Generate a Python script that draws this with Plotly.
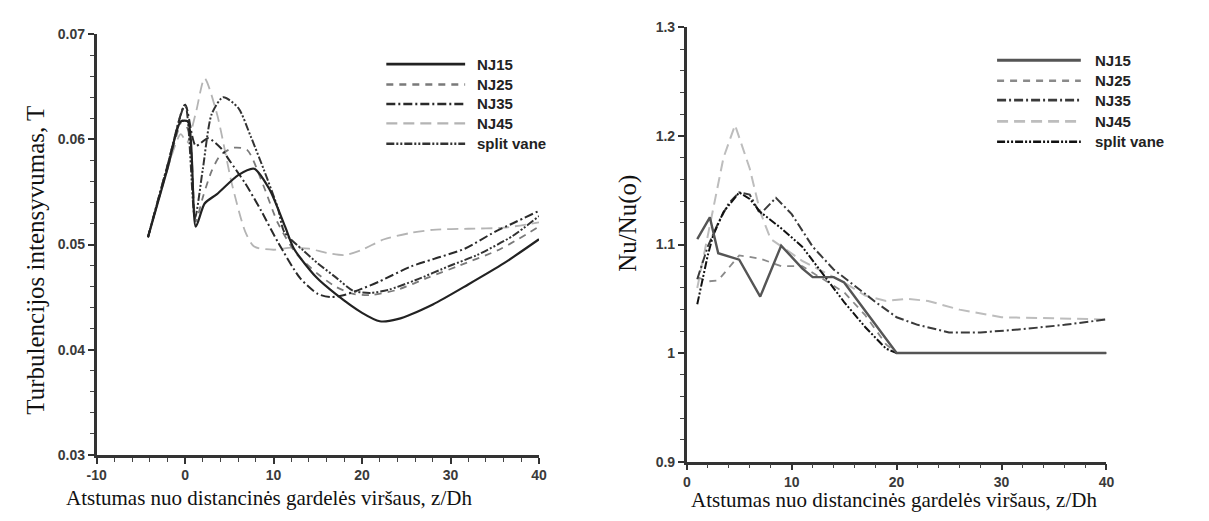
import plotly.graph_objects as go

W, H = 1209, 521

# ---------------- Left chart data (turbulence intensity) ----------------
L_NJ15_x = [-4.2, -2, -0.5, 0.3, 1.2, 2.2, 3.6, 6, 7.8, 9.5, 11.3, 12.3, 14.8, 17, 20, 22, 24, 28, 32, 36, 40]
L_NJ15_y = [0.0507, 0.0572, 0.0617, 0.0617, 0.0517, 0.0539, 0.0548, 0.0566, 0.0572, 0.0553, 0.0517, 0.0496,
            0.0469, 0.0453, 0.0435, 0.0427, 0.0429, 0.0443, 0.0462, 0.0482, 0.0505]

L_NJ25_x = [-4.2, -2, -0.3, 0.5, 1.2, 2, 3, 4, 5.5, 7, 8.8, 10.5, 12.5, 15, 17, 19, 21, 24, 27.6, 31, 35.7, 40]
L_NJ25_y = [0.0507, 0.0572, 0.0618, 0.0605, 0.0522, 0.0545, 0.057, 0.0585, 0.0592, 0.059, 0.0557, 0.052,
            0.0492, 0.0472, 0.046, 0.0453, 0.0452, 0.0457, 0.0469, 0.048, 0.0496, 0.0517]

L_NJ35_x = [-4.2, -2, 0, 1.2, 2.6, 4, 5, 6.8, 8.6, 10.5, 13, 15, 16.5, 18, 20, 22, 25.5, 28, 31.6, 35, 37, 40]
L_NJ35_y = [0.0507, 0.0575, 0.0633, 0.0594, 0.0601, 0.0592, 0.058, 0.0558, 0.0532, 0.0502, 0.0468, 0.0453,
            0.045, 0.0452, 0.0458, 0.0465, 0.0479, 0.0486, 0.0496, 0.0512, 0.052, 0.0532]

L_NJ45_x = [-4.2, -2, -0.5, 0.2, 1.2, 2.2, 3.6, 5.3, 6.8, 7.8, 10, 12, 14, 16, 18, 20, 22.5, 25.5, 28, 32, 36, 40]
L_NJ45_y = [0.0507, 0.0572, 0.0605, 0.0597, 0.0625, 0.0658, 0.0624, 0.0557, 0.0512, 0.0498, 0.0495, 0.0497,
            0.0496, 0.0492, 0.049, 0.0495, 0.0505, 0.0511, 0.0514, 0.0515, 0.0516, 0.0521]

L_SV_x = [-4.2, -2, 0, 1.1, 2, 3, 4.3, 6, 7.4, 8.9, 10.5, 11.2, 13.4, 15, 17, 19, 21, 23, 26, 30, 33, 37, 40]
L_SV_y = [0.0507, 0.0575, 0.0633, 0.0525, 0.0572, 0.0624, 0.064, 0.063, 0.0603, 0.0571, 0.0534, 0.0512,
          0.0494, 0.0482, 0.0469, 0.0456, 0.0454, 0.0457, 0.0466, 0.048, 0.049, 0.0508, 0.0527]

# ---------------- Right chart data (Nu/Nu(o)) ----------------
R_NJ15_x = [1, 2.2, 3, 5, 7, 9, 11, 12, 14, 15, 20, 40]
R_NJ15_y = [1.105, 1.125, 1.092, 1.086, 1.052, 1.099, 1.078, 1.07, 1.07, 1.065, 1.0, 1.0]

R_NJ25_x = [1, 2, 3, 4, 5, 7, 9, 11, 13, 15, 17, 19, 20, 40]
R_NJ25_y = [1.07, 1.066, 1.067, 1.078, 1.09, 1.087, 1.08, 1.08, 1.068, 1.056, 1.035, 1.008, 1.0, 1.0]

R_NJ35_x = [1, 2, 3, 4, 5, 6, 7, 8.5, 10, 12, 14, 16, 18, 20, 22, 25, 28, 32, 36, 40]
R_NJ35_y = [1.068, 1.098, 1.12, 1.138, 1.148, 1.146, 1.128, 1.143, 1.128, 1.098, 1.077, 1.062, 1.047, 1.033,
            1.026, 1.019, 1.019, 1.022, 1.026, 1.031]

R_NJ45_x = [1, 2.5, 3.5, 4.6, 6, 7, 8, 9.5, 11, 13, 15, 17, 19, 21, 23, 26, 30, 35, 40]
R_NJ45_y = [1.06, 1.13, 1.18, 1.21, 1.17, 1.13, 1.105, 1.095, 1.085, 1.075, 1.065, 1.053, 1.048, 1.05, 1.048,
            1.04, 1.033, 1.032, 1.031]

R_SV_x = [1, 2, 2.5, 3.5, 5, 6, 7, 9, 11, 13, 15, 17, 19, 20, 40]
R_SV_y = [1.045, 1.09, 1.108, 1.13, 1.148, 1.142, 1.13, 1.115, 1.098, 1.072, 1.047, 1.024, 1.004, 1.0, 1.0]

names = ["NJ15", "NJ25", "NJ35", "NJ45", "split vane"]

L_x_ticks = [-10, 0, 10, 20, 30, 40]
L_x_ticktext = ["-10", "0", "10", "20", "30", "40"]
L_y_ticks = [0.03, 0.04, 0.05, 0.06, 0.07]
L_y_ticktext = ["0.03", "0.04", "0.05", "0.06", "0.07"]
R_x_ticks = [0, 10, 20, 30, 40]
R_x_ticktext = ["0", "10", "20", "30", "40"]
R_y_ticks = [0.9, 1.0, 1.1, 1.2, 1.3]
R_y_ticktext = ["0.9", "1", "1.1", "1.2", "1.3"]

# styles
DASH_SOLID = "solid"
DASH_25 = "7px,6px"
DASH_35 = "9px,3px,2px,3px"
DASH_45 = "11px,6px"
DASH_SV = "8px,2px,2px,2px,2px,2px"

left_styles = [
    dict(color="#222222", width=2.2, dash=DASH_SOLID),
    dict(color="#7a7a7a", width=1.8, dash=DASH_25),
    dict(color="#2a2a2a", width=2.0, dash=DASH_35),
    dict(color="#b4b4b4", width=1.8, dash=DASH_45),
    dict(color="#333333", width=2.0, dash=DASH_SV),
]
right_styles = [
    dict(color="#555555", width=2.4, dash=DASH_SOLID),
    dict(color="#8a8a8a", width=1.8, dash=DASH_25),
    dict(color="#3a3a3a", width=2.0, dash=DASH_35),
    dict(color="#bdbdbd", width=2.0, dash=DASH_45),
    dict(color="#111111", width=2.0, dash=DASH_SV),
]

fig = go.Figure()

left_series = [(L_NJ15_x, L_NJ15_y), (L_NJ25_x, L_NJ25_y), (L_NJ35_x, L_NJ35_y),
               (L_NJ45_x, L_NJ45_y), (L_SV_x, L_SV_y)]
right_series = [(R_NJ15_x, R_NJ15_y), (R_NJ25_x, R_NJ25_y), (R_NJ35_x, R_NJ35_y),
                (R_NJ45_x, R_NJ45_y), (R_SV_x, R_SV_y)]

# draw order: light ones first
order = [3, 1, 2, 4, 0]
for i in order:
    x, y = left_series[i]
    fig.add_trace(go.Scatter(x=x, y=y, mode="lines", name=names[i], showlegend=False,
                             line=dict(shape="spline", smoothing=0.7, **left_styles[i]),
                             xaxis="x", yaxis="y"))
for i in order:
    x, y = right_series[i]
    fig.add_trace(go.Scatter(x=x, y=y, mode="lines", name=names[i], showlegend=False,
                             line=dict(shape="linear", **right_styles[i]),
                             xaxis="x2", yaxis="y2"))

# plot area geometry (pixels)
L_x0, L_x1, L_y0, L_y1 = 88, 537, 27, 461
R_x0, R_x1, R_y0, R_y1 = 687, 1113, 20, 468

tickfont = dict(family="Liberation Sans, Arial", size=14, color="#3a3a3a", weight="bold")
axis_common = dict(showline=True, linewidth=2.6, linecolor="#333333", ticks="outside", ticklen=6,
                   tickwidth=1.6, tickcolor="#333333", showgrid=False, zeroline=False, mirror=False,
                   tickfont=tickfont, fixedrange=True)

fig.update_layout(
    width=W, height=H, margin=dict(l=0, r=0, t=0, b=0),
    paper_bgcolor="white", plot_bgcolor="white", showlegend=False,
    xaxis=dict(domain=[L_x0 / W, L_x1 / W], range=[-10, 40], anchor="y",
               tickvals=L_x_ticks, ticktext=L_x_ticktext,
               minor=dict(ticks="outside", dtick=2, ticklen=4, tickwidth=1.2, tickcolor="#444"),
               **axis_common),
    yaxis=dict(domain=[1 - L_y1 / H, 1 - L_y0 / H], range=[0.03, 0.07], anchor="x",
               tickvals=L_y_ticks, ticktext=L_y_ticktext,
               minor=dict(ticks="outside", dtick=0.002, ticklen=4, tickwidth=1.2, tickcolor="#444"),
               **axis_common),
    xaxis2=dict(domain=[R_x0 / W, R_x1 / W], range=[0, 40], anchor="y2",
                tickvals=R_x_ticks, ticktext=R_x_ticktext,
                minor=dict(ticks="outside", dtick=2, ticklen=4, tickwidth=1.2, tickcolor="#444"),
                **axis_common),
    yaxis2=dict(domain=[1 - R_y1 / H, 1 - R_y0 / H], range=[0.9, 1.3], anchor="x2",
                tickvals=R_y_ticks, ticktext=R_y_ticktext,
                minor=dict(ticks="outside", dtick=0.02, ticklen=4, tickwidth=1.2, tickcolor="#444"),
                **axis_common),
)

serif = "Liberation Serif, Times New Roman, serif"
annotations = [
    dict(text="Turbulencijos intensyvumas, T", x=25 / W, y=1 - 260 / H, textangle=-90,
         font=dict(family=serif, size=25, color="#111")),
    dict(text="Nu/Nu(o)", x=628 / W, y=1 - 222 / H, textangle=-90,
         font=dict(family=serif, size=25, color="#111")),
    dict(text="Atstumas nuo distancinės gardelės viršaus, z/Dh", x=263 / W, y=1 - 506 / H,
         font=dict(family=serif, size=21, color="#111")),
    dict(text="Atstumas nuo distancinės gardelės viršaus, z/Dh", x=897 / W, y=1 - 508 / H,
         font=dict(family=serif, size=21, color="#111")),
]

shapes = []
legend_font = dict(family="Liberation Sans, Arial", size=15, color="#222", weight="bold")
# legends (layout decoration, paper coordinates)
L_leg = dict(x0=382, x1=462, xt=472, rows=[58, 79, 99, 119, 140])
R_leg = dict(x0=1002, x1=1087, xt=1099, rows=[54, 75, 95, 117, 138])
for leg, styles in ((L_leg, left_styles), (R_leg, right_styles)):
    for i, yy in enumerate(leg["rows"]):
        st = styles[i]
        shapes.append(dict(type="line", xref="paper", yref="paper",
                           x0=leg["x0"] / W, x1=leg["x1"] / W, y0=1 - yy / H, y1=1 - yy / H,
                           line=dict(color=st["color"], width=st["width"] + 0.6, dash=st["dash"])))
        annotations.append(dict(text=names[i], x=leg["xt"] / W, y=1 - yy / H, xanchor="left",
                                yanchor="middle", font=legend_font))

for a in annotations:
    a.setdefault("xref", "paper")
    a.setdefault("yref", "paper")
    a.setdefault("showarrow", False)
    a.setdefault("xanchor", "center")
    a.setdefault("yanchor", "middle")

fig.update_layout(annotations=annotations, shapes=shapes)
fig.write_html("out.html")
